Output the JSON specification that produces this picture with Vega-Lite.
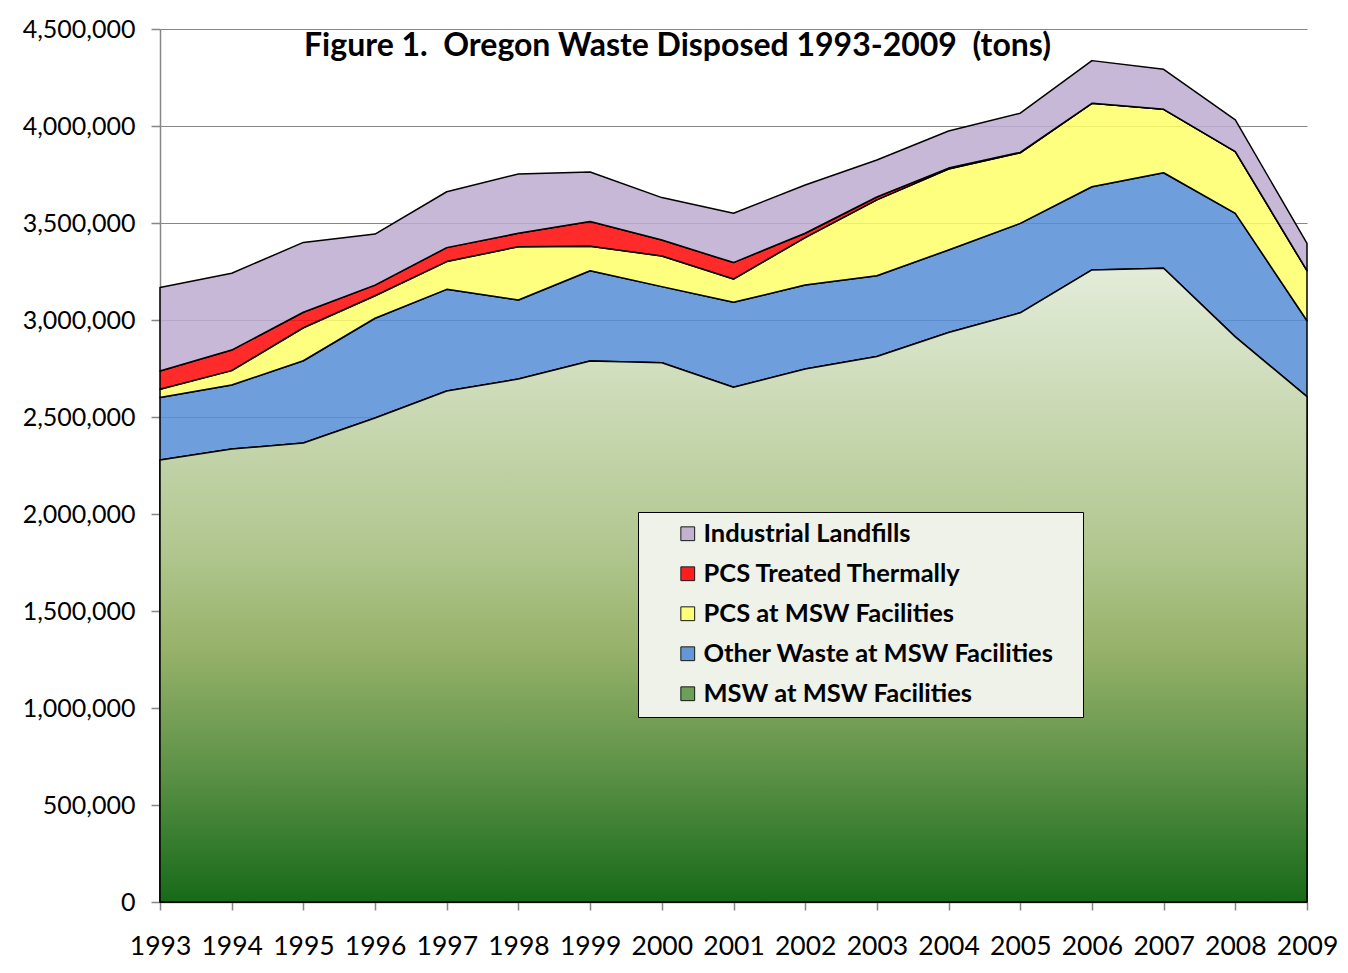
{
  "$schema": "https://vega.github.io/schema/vega-lite/v6.json",
  "width": 1147,
  "height": 873,
  "autosize": {"type": "none"},
  "padding": {"left": 160, "top": 29, "right": 41, "bottom": 71},
  "background": "white",
  "title": {
    "text": "Figure 1.\u00a0 Oregon Waste Disposed 1993-2009\u00a0 (tons)",
    "font": "Lato",
    "fontSize": 32,
    "fontWeight": "bold",
    "color": "black",
    "anchor": "middle",
    "offset": -46,
    "dx": -56
  },
  "datasets": {
    "waste": [
      {"year": 1993, "series": "MSW at MSW Facilities", "ord": 1, "value": 2278000},
      {"year": 1994, "series": "MSW at MSW Facilities", "ord": 1, "value": 2335000},
      {"year": 1995, "series": "MSW at MSW Facilities", "ord": 1, "value": 2366000},
      {"year": 1996, "series": "MSW at MSW Facilities", "ord": 1, "value": 2495000},
      {"year": 1997, "series": "MSW at MSW Facilities", "ord": 1, "value": 2634000},
      {"year": 1998, "series": "MSW at MSW Facilities", "ord": 1, "value": 2696000},
      {"year": 1999, "series": "MSW at MSW Facilities", "ord": 1, "value": 2789000},
      {"year": 2000, "series": "MSW at MSW Facilities", "ord": 1, "value": 2780000},
      {"year": 2001, "series": "MSW at MSW Facilities", "ord": 1, "value": 2653000},
      {"year": 2002, "series": "MSW at MSW Facilities", "ord": 1, "value": 2747000},
      {"year": 2003, "series": "MSW at MSW Facilities", "ord": 1, "value": 2812000},
      {"year": 2004, "series": "MSW at MSW Facilities", "ord": 1, "value": 2936000},
      {"year": 2005, "series": "MSW at MSW Facilities", "ord": 1, "value": 3037000},
      {"year": 2006, "series": "MSW at MSW Facilities", "ord": 1, "value": 3258000},
      {"year": 2007, "series": "MSW at MSW Facilities", "ord": 1, "value": 3267000},
      {"year": 2008, "series": "MSW at MSW Facilities", "ord": 1, "value": 2913000},
      {"year": 2009, "series": "MSW at MSW Facilities", "ord": 1, "value": 2605000},
      {"year": 1993, "series": "Other Waste at MSW Facilities", "ord": 2, "value": 323000},
      {"year": 1994, "series": "Other Waste at MSW Facilities", "ord": 2, "value": 330000},
      {"year": 1995, "series": "Other Waste at MSW Facilities", "ord": 2, "value": 424000},
      {"year": 1996, "series": "Other Waste at MSW Facilities", "ord": 2, "value": 514000},
      {"year": 1997, "series": "Other Waste at MSW Facilities", "ord": 2, "value": 524000},
      {"year": 1998, "series": "Other Waste at MSW Facilities", "ord": 2, "value": 407000},
      {"year": 1999, "series": "Other Waste at MSW Facilities", "ord": 2, "value": 465000},
      {"year": 2000, "series": "Other Waste at MSW Facilities", "ord": 2, "value": 392000},
      {"year": 2001, "series": "Other Waste at MSW Facilities", "ord": 2, "value": 438000},
      {"year": 2002, "series": "Other Waste at MSW Facilities", "ord": 2, "value": 433000},
      {"year": 2003, "series": "Other Waste at MSW Facilities", "ord": 2, "value": 416000},
      {"year": 2004, "series": "Other Waste at MSW Facilities", "ord": 2, "value": 425000},
      {"year": 2005, "series": "Other Waste at MSW Facilities", "ord": 2, "value": 461000},
      {"year": 2006, "series": "Other Waste at MSW Facilities", "ord": 2, "value": 429000},
      {"year": 2007, "series": "Other Waste at MSW Facilities", "ord": 2, "value": 492000},
      {"year": 2008, "series": "Other Waste at MSW Facilities", "ord": 2, "value": 637000},
      {"year": 2009, "series": "Other Waste at MSW Facilities", "ord": 2, "value": 391000},
      {"year": 1993, "series": "PCS at MSW Facilities", "ord": 3, "value": 42000},
      {"year": 1994, "series": "PCS at MSW Facilities", "ord": 3, "value": 74000},
      {"year": 1995, "series": "PCS at MSW Facilities", "ord": 3, "value": 170000},
      {"year": 1996, "series": "PCS at MSW Facilities", "ord": 3, "value": 116000},
      {"year": 1997, "series": "PCS at MSW Facilities", "ord": 3, "value": 143000},
      {"year": 1998, "series": "PCS at MSW Facilities", "ord": 3, "value": 275000},
      {"year": 1999, "series": "PCS at MSW Facilities", "ord": 3, "value": 126000},
      {"year": 2000, "series": "PCS at MSW Facilities", "ord": 3, "value": 158000},
      {"year": 2001, "series": "PCS at MSW Facilities", "ord": 3, "value": 120000},
      {"year": 2002, "series": "PCS at MSW Facilities", "ord": 3, "value": 245000},
      {"year": 2003, "series": "PCS at MSW Facilities", "ord": 3, "value": 391000},
      {"year": 2004, "series": "PCS at MSW Facilities", "ord": 3, "value": 417000},
      {"year": 2005, "series": "PCS at MSW Facilities", "ord": 3, "value": 364000},
      {"year": 2006, "series": "PCS at MSW Facilities", "ord": 3, "value": 430000},
      {"year": 2007, "series": "PCS at MSW Facilities", "ord": 3, "value": 327000},
      {"year": 2008, "series": "PCS at MSW Facilities", "ord": 3, "value": 318000},
      {"year": 2009, "series": "PCS at MSW Facilities", "ord": 3, "value": 258000},
      {"year": 1993, "series": "PCS Treated Thermally", "ord": 4, "value": 94000},
      {"year": 1994, "series": "PCS Treated Thermally", "ord": 4, "value": 106000},
      {"year": 1995, "series": "PCS Treated Thermally", "ord": 4, "value": 80000},
      {"year": 1996, "series": "PCS Treated Thermally", "ord": 4, "value": 55000},
      {"year": 1997, "series": "PCS Treated Thermally", "ord": 4, "value": 72000},
      {"year": 1998, "series": "PCS Treated Thermally", "ord": 4, "value": 69000},
      {"year": 1999, "series": "PCS Treated Thermally", "ord": 4, "value": 128000},
      {"year": 2000, "series": "PCS Treated Thermally", "ord": 4, "value": 82000},
      {"year": 2001, "series": "PCS Treated Thermally", "ord": 4, "value": 85000},
      {"year": 2002, "series": "PCS Treated Thermally", "ord": 4, "value": 22000},
      {"year": 2003, "series": "PCS Treated Thermally", "ord": 4, "value": 15000},
      {"year": 2004, "series": "PCS Treated Thermally", "ord": 4, "value": 5000},
      {"year": 2005, "series": "PCS Treated Thermally", "ord": 4, "value": 2000},
      {"year": 2006, "series": "PCS Treated Thermally", "ord": 4, "value": 0},
      {"year": 2007, "series": "PCS Treated Thermally", "ord": 4, "value": 0},
      {"year": 2008, "series": "PCS Treated Thermally", "ord": 4, "value": 0},
      {"year": 2009, "series": "PCS Treated Thermally", "ord": 4, "value": 0},
      {"year": 1993, "series": "Industrial Landfills", "ord": 5, "value": 431000},
      {"year": 1994, "series": "Industrial Landfills", "ord": 5, "value": 396000},
      {"year": 1995, "series": "Industrial Landfills", "ord": 5, "value": 360000},
      {"year": 1996, "series": "Industrial Landfills", "ord": 5, "value": 263000},
      {"year": 1997, "series": "Industrial Landfills", "ord": 5, "value": 288000},
      {"year": 1998, "series": "Industrial Landfills", "ord": 5, "value": 306000},
      {"year": 1999, "series": "Industrial Landfills", "ord": 5, "value": 255000},
      {"year": 2000, "series": "Industrial Landfills", "ord": 5, "value": 219000},
      {"year": 2001, "series": "Industrial Landfills", "ord": 5, "value": 254000},
      {"year": 2002, "series": "Industrial Landfills", "ord": 5, "value": 249000},
      {"year": 2003, "series": "Industrial Landfills", "ord": 5, "value": 191000},
      {"year": 2004, "series": "Industrial Landfills", "ord": 5, "value": 191000},
      {"year": 2005, "series": "Industrial Landfills", "ord": 5, "value": 202000},
      {"year": 2006, "series": "Industrial Landfills", "ord": 5, "value": 220000},
      {"year": 2007, "series": "Industrial Landfills", "ord": 5, "value": 206000},
      {"year": 2008, "series": "Industrial Landfills", "ord": 5, "value": 163000},
      {"year": 2009, "series": "Industrial Landfills", "ord": 5, "value": 141000}
    ]
  },
  "data": {"name": "waste"},
  "encoding": {
    "x": {
      "field": "year",
      "type": "quantitative",
      "scale": {"domain": [1993, 2009], "nice": false, "zero": false},
      "axis": {
        "values": [1993, 1994, 1995, 1996, 1997, 1998, 1999, 2000, 2001, 2002, 2003, 2004, 2005, 2006, 2007, 2008, 2009],
        "format": "d",
        "title": null,
        "grid": false,
        "tickSize": 8,
        "labelPadding": 23,
        "labelFontSize": 26.5,
        "labelFlush": false
      }
    },
    "y": {
      "field": "value",
      "type": "quantitative",
      "stack": "zero",
      "scale": {"domain": [0, 4500000], "nice": false},
      "axis": {
        "values": [0, 500000, 1000000, 1500000, 2000000, 2500000, 3000000, 3500000, 4000000, 4500000],
        "format": ",d",
        "title": null,
        "grid": true,
        "tickSize": 9,
        "labelFontSize": 25,
        "labelPadding": 16
      }
    }
  },
  "layer": [
    {
      "mark": {"type": "area", "stroke": "black", "strokeWidth": 1.5, "strokeJoin": "round", "fillOpacity": 0.86},
      "encoding": {
        "color": {
          "field": "series",
          "type": "nominal",
          "scale": {
            "domain": ["Industrial Landfills", "PCS Treated Thermally", "PCS at MSW Facilities", "Other Waste at MSW Facilities", "MSW at MSW Facilities"],
            "range": ["#bdaccf", "#ff0808", "#ffff6a", "#568ed6", "#5c9848"]
          },
          "legend": {
            "title": "\u00a0",
            "titleOrient": "right",
            "titlePadding": 20,
            "titleFontSize": 10,
            "orient": "none",
            "legendX": 478,
            "legendY": 483,
            "symbolType": "square",
            "symbolSize": 190,
            "symbolStrokeColor": "black",
            "symbolStrokeWidth": 1,
            "symbolOpacity": 0.9,
            "symbolOffset": 28,
            "labelFont": "Lato",
            "labelFontSize": 25.5,
            "labelFontWeight": "bold",
            "labelColor": "black",
            "labelOffset": 3,
            "labelLimit": 500,
            "rowPadding": 13,
            "padding": 9,
            "fillColor": "#eef2e9",
            "strokeColor": "black"
          }
        },
        "order": {"field": "ord", "type": "quantitative"}
      }
    },
    {
      "transform": [{"filter": "datum.series === 'MSW at MSW Facilities'"}],
      "mark": {
        "type": "area",
        "stroke": "black",
        "strokeWidth": 1.5,
        "strokeJoin": "round",
        "fill": {
          "gradient": "linear",
          "x1": 0, "y1": 0, "x2": 0, "y2": 1,
          "stops": [
            {"offset": 0, "color": "#e3ecd9"},
            {"offset": 0.45, "color": "#b0c68e"},
            {"offset": 0.6, "color": "#97b26a"},
            {"offset": 0.8, "color": "#5a9046"},
            {"offset": 1, "color": "#176a18"}
          ]
        }
      },
      "encoding": {}
    }
  ],
  "config": {
    "view": {"stroke": null},
    "axis": {
      "labelFont": "Lato",
      "labelColor": "black",
      "domainColor": "#868686",
      "tickColor": "#868686",
      "gridColor": "#868686",
      "gridWidth": 1,
      "domainWidth": 1.5,
      "tickWidth": 1.5
    }
  }
}
